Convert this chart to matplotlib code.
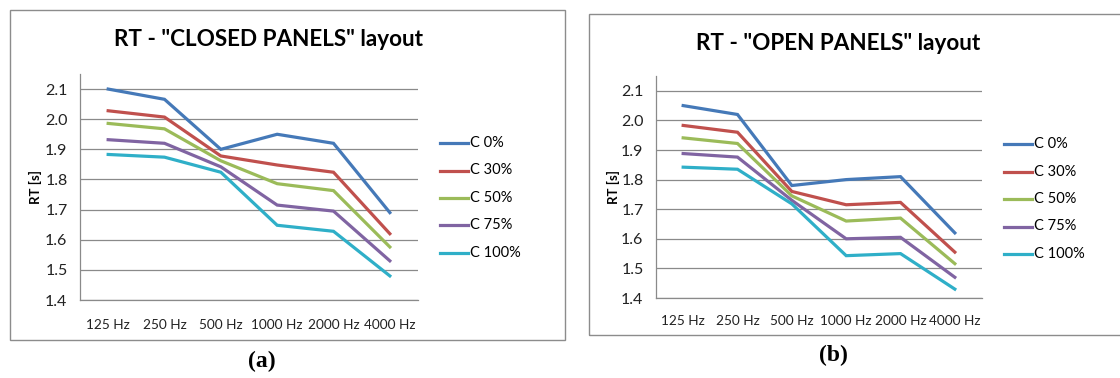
import matplotlib.pyplot as plt
from matplotlib.lines import Line2D
from matplotlib.patches import Rectangle

# Data
freqs = ['125 Hz', '250 Hz', '500 Hz', '1000 Hz', '2000 Hz', '4000 Hz']
series = ['C 0%', 'C 30%', 'C 50%', 'C 75%', 'C 100%']

closed_c0 = [2.10, 2.066, 1.90, 1.95, 1.92, 1.69]
closed_c30 = [2.028, 2.007, 1.878, 1.848, 1.824, 1.62]
closed_c50 = [1.986, 1.968, 1.862, 1.786, 1.763, 1.576]
closed_c75 = [1.932, 1.920, 1.842, 1.715, 1.695, 1.530]
closed_c100 = [1.883, 1.874, 1.824, 1.648, 1.628, 1.480]

open_c0 = [2.05, 2.02, 1.78, 1.80, 1.81, 1.62]
open_c30 = [1.983, 1.96, 1.76, 1.715, 1.723, 1.555]
open_c50 = [1.941, 1.922, 1.745, 1.66, 1.67, 1.516]
open_c75 = [1.888, 1.876, 1.73, 1.60, 1.605, 1.47]
open_c100 = [1.842, 1.835, 1.718, 1.543, 1.55, 1.43]

colors = ['#4579B8', '#C0504D', '#9BBB59', '#8064A2', '#2FAFC8']

W, H = 1120, 378
fig = plt.figure(figsize=(W / 100, H / 100), dpi=100)
fig.patch.set_facecolor('white')

FONT = ['Lato', 'DejaVu Sans']


def rect(x0, y0, x1, y1):
    # pixel box (top-left origin) -> figure fraction
    return [x0 / W, 1 - y1 / H, (x1 - x0) / W, (y1 - y0) / H]


def fx(x):
    return x / W


def fy(y):
    return 1 - y / H


def panel(box, axbox, data, title, title_xy, leg_x, leg_y0, ylab_x, caption, cap_xy, xpad):
    # outer frame
    x0, y0, x1, y1 = box
    fig.add_artist(Rectangle((fx(x0), fy(y1)), fx(x1) - fx(x0), fy(y0) - fy(y1),
                             transform=fig.transFigure, fill=False,
                             edgecolor='#8c8c8c', linewidth=1.0))

    ax = fig.add_axes(rect(*axbox))
    xs = range(len(freqs))
    for vals, c, lab in zip(data, colors, series):
        ax.plot(xs, vals, color=c, linewidth=2.3, label=lab, solid_joinstyle='miter')
    ax.set_xlim(-0.5, len(freqs) - 0.5)
    ax.set_ylim(1.4, 2.15)
    ax.set_yticks([1.4, 1.5, 1.6, 1.7, 1.8, 1.9, 2.0, 2.1])
    ax.set_yticklabels(['%.1f' % v for v in ax.get_yticks()], family=FONT, fontsize=11.5)
    ax.set_xticks(list(xs))
    ax.set_xticklabels(freqs, family=FONT, fontsize=9.8)
    ax.tick_params(length=0, colors='#222222')
    ax.tick_params(axis='x', pad=xpad)
    ax.tick_params(axis='y', pad=9)
    ax.grid(axis='y', color='#8a8a8a', linewidth=0.9)
    ax.set_axisbelow(True)
    for s in ['top', 'right']:
        ax.spines[s].set_visible(False)
    for s in ['left', 'bottom']:
        ax.spines[s].set_color('#8a8a8a')
        ax.spines[s].set_linewidth(0.9)

    fig.text(fx(ylab_x), fy((axbox[1] + axbox[3]) / 2), 'RT [s]', rotation=90,
             ha='center', va='center', family=FONT, fontweight='bold', fontsize=9.5)

    fig.text(fx(title_xy[0]), fy(title_xy[1]), title, ha='center', va='center',
             family=FONT, fontweight='bold', fontsize=16.2)

    # legend
    for i, (c, lab) in enumerate(zip(colors, series)):
        yy = leg_y0 + i * 27.5
        fig.add_artist(Line2D([fx(leg_x), fx(leg_x + 28)], [fy(yy), fy(yy)],
                              transform=fig.transFigure, color=c, linewidth=2.3))
        fig.text(fx(leg_x + 30), fy(yy), lab, ha='left', va='center',
                 family=FONT, fontsize=10.5)

    fig.text(fx(cap_xy[0]), fy(cap_xy[1]), caption, ha='center', va='center',
             family='Liberation Serif', fontweight='bold', fontsize=17)
    return ax


panel((10, 10, 565, 340), (80, 74, 418, 300),
      [closed_c0, closed_c30, closed_c50, closed_c75, closed_c100],
      'RT - "CLOSED PANELS" layout', (268, 40), 440, 143, 35, '(a)', (262, 361), 14)

panel((589, 14, 1125, 335), (656, 76, 982, 298),
      [open_c0, open_c30, open_c50, open_c75, open_c100],
      'RT - "OPEN PANELS" layout', (838, 43), 1004, 144, 613, '(b)', (833, 355), 12)

fig.savefig('out.png', dpi=100, facecolor='white')
